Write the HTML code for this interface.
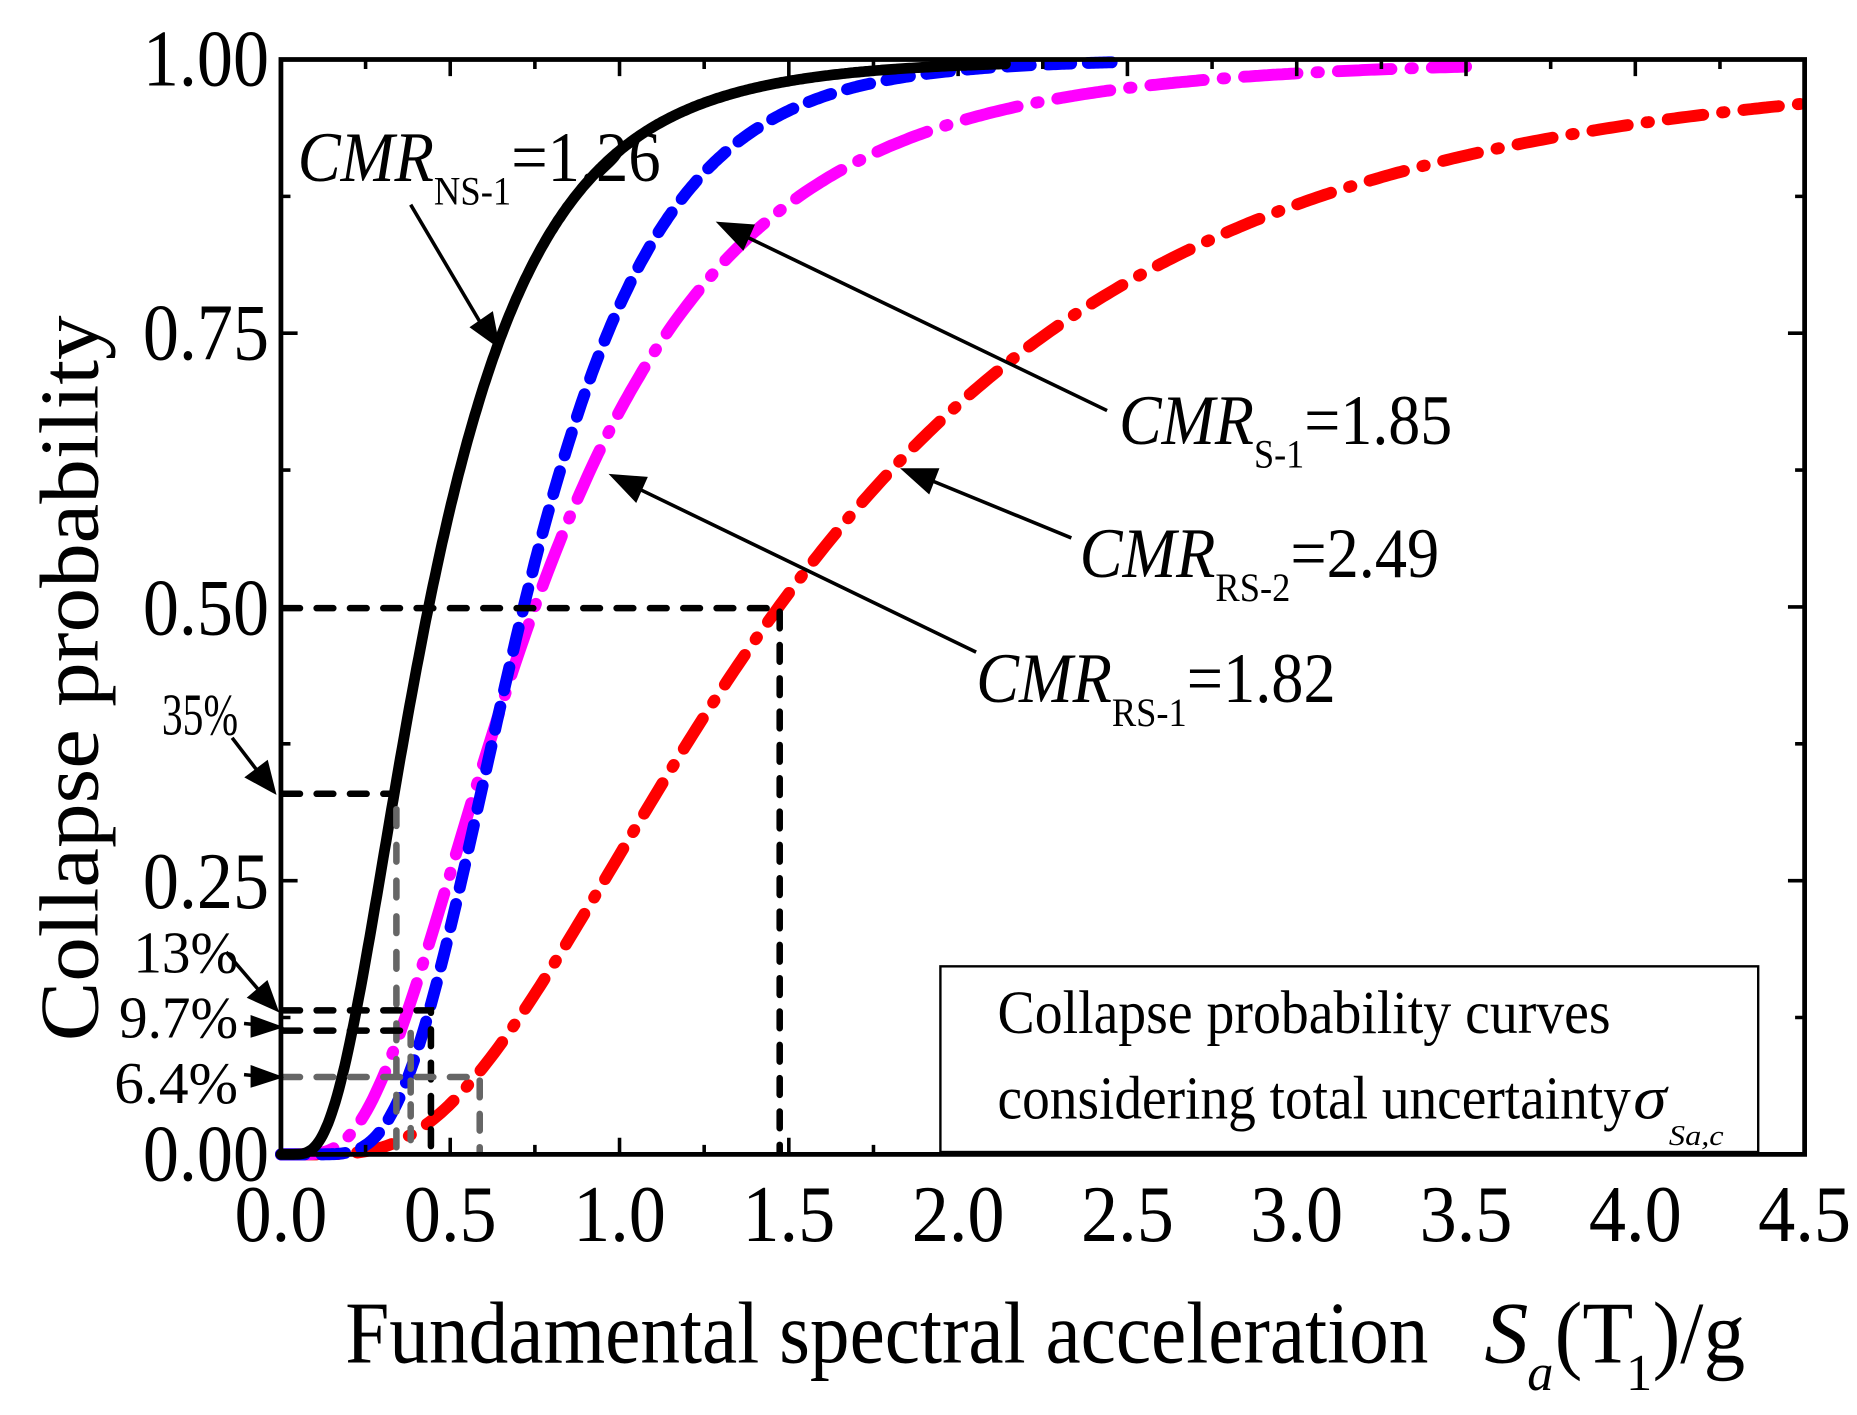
<!DOCTYPE html>
<html><head><meta charset="utf-8"><style>html,body{margin:0;padding:0;background:#fff}svg{display:block}text{font-family:"Liberation Serif",serif;fill:#000}</style></head>
<body>
<svg id="s" width="1857" height="1415" viewBox="0 0 1560 1189" preserveAspectRatio="none" xmlns="http://www.w3.org/2000/svg">
<rect width="1560" height="1189" fill="#fff"/>
<g id="curves" fill="none" stroke-linecap="round"></g>
<g fill="none" stroke-width="5.5" stroke-linecap="round">
<path d="M238 511 H655 V968" stroke="#000" stroke-dasharray="14 14"/>
<path d="M238 667 H330" stroke="#000" stroke-dasharray="14 14"/>
<path d="M333 680 V968" stroke="#666" stroke-dasharray="14 16"/>
<path d="M238 849 H362 V968" stroke="#000" stroke-dasharray="14 14"/>
<path d="M238 866 H350" stroke="#000" stroke-dasharray="14 14"/>
<path d="M345 868 V968" stroke="#666" stroke-dasharray="10 10"/>
<path d="M238 905 H403 V968" stroke="#666" stroke-dasharray="14 14"/>
</g>
<rect x="236" y="50" width="1280" height="920" fill="none" stroke="#000" stroke-width="4"/>
<g id="ticks" stroke="#000" stroke-width="3"></g>
<rect x="790" y="812" width="687" height="156" fill="#fff" stroke="#000" stroke-width="2"/>
<text x="838" y="868" font-size="52" textLength="515" lengthAdjust="spacingAndGlyphs">Collapse probability curves</text>
<text x="838" y="940" font-size="52" textLength="532" lengthAdjust="spacingAndGlyphs">considering total uncertainty</text>
<text x="1372" y="940" font-size="52" font-style="italic" textLength="28" lengthAdjust="spacingAndGlyphs">σ</text>
<text x="1402" y="962" font-size="24" font-style="italic" textLength="46" lengthAdjust="spacingAndGlyphs">Sa,c</text>
<g font-size="68">
<text x="226" y="72" text-anchor="end" textLength="106" lengthAdjust="spacingAndGlyphs">1.00</text>
<text x="226" y="302" text-anchor="end" textLength="106" lengthAdjust="spacingAndGlyphs">0.75</text>
<text x="226" y="533" text-anchor="end" textLength="106" lengthAdjust="spacingAndGlyphs">0.50</text>
<text x="226" y="763" text-anchor="end" textLength="106" lengthAdjust="spacingAndGlyphs">0.25</text>
<text x="226" y="992" text-anchor="end" textLength="106" lengthAdjust="spacingAndGlyphs">0.00</text>
</g>
<g id="xl" font-size="68"></g>
<g font-size="50">
<text x="200" y="617" text-anchor="end" textLength="64" lengthAdjust="spacingAndGlyphs">35%</text>
<text x="200" y="817" text-anchor="end" textLength="88" lengthAdjust="spacingAndGlyphs">13%</text>
<text x="200" y="872" text-anchor="end" textLength="100" lengthAdjust="spacingAndGlyphs">9.7%</text>
<text x="200" y="927" text-anchor="end" textLength="104" lengthAdjust="spacingAndGlyphs">6.4%</text>
</g>
<text transform="translate(82 570) rotate(-90)" font-size="70" text-anchor="middle" textLength="610" lengthAdjust="spacingAndGlyphs">Collapse probability</text>
<text x="290" y="1145" font-size="74" textLength="910" lengthAdjust="spacingAndGlyphs">Fundamental spectral acceleration</text>
<text x="1247" y="1145" font-size="74" font-style="italic">S</text>
<text x="1283" y="1168" font-size="44" font-style="italic">a</text>
<text x="1306" y="1145" font-size="74" textLength="160" lengthAdjust="spacingAndGlyphs">(T  )/g</text>
<text x="1366" y="1168" font-size="44">1</text>
<g font-size="60">
<text x="250" y="152" textLength="305" lengthAdjust="spacingAndGlyphs"><tspan font-style="italic">CMR</tspan><tspan font-size="34" dy="20">NS-1</tspan><tspan dy="-20">=1.26</tspan></text>
<text x="940" y="373" textLength="280" lengthAdjust="spacingAndGlyphs"><tspan font-style="italic">CMR</tspan><tspan font-size="34" dy="20">S-1</tspan><tspan dy="-20">=1.85</tspan></text>
<text x="907" y="485" textLength="302" lengthAdjust="spacingAndGlyphs"><tspan font-style="italic">CMR</tspan><tspan font-size="34" dy="20">RS-2</tspan><tspan dy="-20">=2.49</tspan></text>
<text x="820" y="590" textLength="302" lengthAdjust="spacingAndGlyphs"><tspan font-style="italic">CMR</tspan><tspan font-size="34" dy="20">RS-1</tspan><tspan dy="-20">=1.82</tspan></text>
</g>
<g stroke="#000" stroke-width="3" fill="#000">
<line x1="345" y1="172" x2="410" y2="282"/><path d="M418 290 L397 275 L413 264z"/>
<line x1="930" y1="345" x2="625" y2="198"/><path d="M605 188 L632 190 L624 208z"/>
<line x1="900" y1="452" x2="778" y2="402"/><path d="M760 395 L787 395 L780 413z"/>
<line x1="820" y1="548" x2="535" y2="410"/><path d="M515 400 L542 402 L534 420z"/>
<line x1="195" y1="620" x2="218" y2="650"/><path d="M230 665 L208 653 L224 641z"/>
<line x1="190" y1="800" x2="220" y2="835"/><path d="M232 848 L210 838 L224 826z"/>
<line x1="205" y1="860" x2="215" y2="861"/><path d="M234 863 L212 855 L212 870z"/>
<line x1="205" y1="903" x2="215" y2="904"/><path d="M234 905 L212 897 L212 912z"/>
</g>
</svg>
<script>
(function(){
var NS="http://www.w3.org/2000/svg",X0=236,PX=284.444,Y0=970,PY=920;
function erf(x){var s=x<0?-1:1;x=Math.abs(x);var t=1/(1+0.3275911*x);var y=1-(((((1.061405429*t-1.453152027)*t)+1.421413741)*t-0.284496736)*t+0.254829592)*t*Math.exp(-x*x);return s*y;}
function cdf(x,m,b){if(x<=0)return 0;return 0.5*(1+erf(Math.log(x/m)/(b*Math.SQRT2)));}
function path(m,b,xmax){var d="";for(var i=0;i<=400;i++){var x=xmax*i/400;var p=cdf(x,m,b);d+=(i?"L":"M")+(X0+x*PX).toFixed(1)+" "+(Y0-p*PY).toFixed(1);}return d;}
var g=document.getElementById("curves");
function add(d,c,w,da){var p=document.createElementNS(NS,"path");p.setAttribute("d",d);p.setAttribute("stroke",c);p.setAttribute("stroke-width",w);if(da)p.setAttribute("stroke-dasharray",da);g.appendChild(p);}
add(path(1.47,0.64,4.5),"#f00",10,"30 16 2 16");
add(path(0.75,0.62,3.5),"#f0f",10,"45 16 2 16");
add(path(0.717,0.44,2.5),"#00f",10,"20 14");
add(path(0.436,0.6,2.14),"#000",9,null);
var t=document.getElementById("ticks"),d="";
for(var i=0;i<=18;i++){var x=X0+i*0.25*PX,L=(i%2==0)?14:8;d+="M"+x+" 970v-"+L+"M"+x+" 50v"+L;}
for(var j=0;j<=8;j++){var y=Y0-j*0.125*PY,L2=(j%2==0)?14:8;d+="M236 "+y+"h"+L2+"M1516 "+y+"h-"+L2;}
var p=document.createElementNS(NS,"path");p.setAttribute("d",d);t.appendChild(p);
var xl=document.getElementById("xl");
for(var k=0;k<=9;k++){var tx=document.createElementNS(NS,"text");tx.setAttribute("x",X0+k*0.5*PX);tx.setAttribute("y",1043);tx.setAttribute("text-anchor","middle");tx.setAttribute("textLength","78");tx.setAttribute("lengthAdjust","spacingAndGlyphs");tx.textContent=(k*0.5).toFixed(1);xl.appendChild(tx);}
})();
</script>
</body></html>
